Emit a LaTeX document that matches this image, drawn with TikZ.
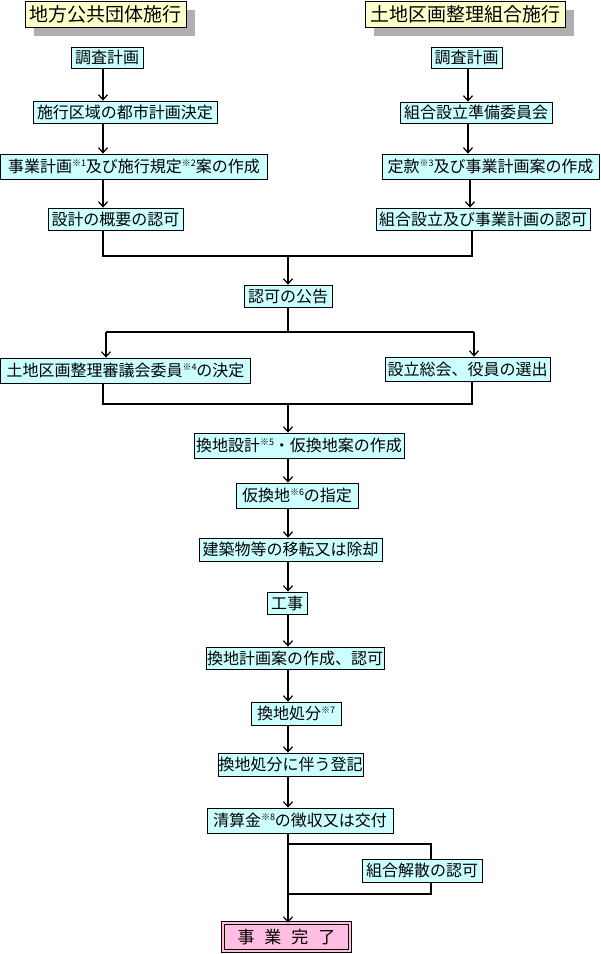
\documentclass[tikz,border=0pt]{standalone}
\usepackage{fontspec}
\setmainfont{Noto Sans CJK JP}
\usetikzlibrary{arrows.meta,shadows}
\definecolor{boxcyan}{RGB}{204,255,255}
\definecolor{hdryellow}{RGB}{255,255,204}
\definecolor{shadowgray}{RGB}{175,175,175}
\definecolor{epink}{RGB}{255,190,225}
\newcommand{\kome}[1]{\raisebox{6.5pt}{\fontsize{9}{9}\selectfont ※#1}}
\begin{document}
\begin{tikzpicture}[x=1pt,y=-1pt,
  box/.style={draw=black,line width=0.8pt,fill=boxcyan,inner sep=0pt,
    font=\fontsize{16}{16}\selectfont,anchor=center},
  sz/.style 2 args={minimum width=#1pt,minimum height=#2pt},
  hdr/.style={draw=black,line width=0.8pt,fill=hdryellow,inner sep=0pt,
    font=\fontsize{19}{19}\selectfont,
    drop shadow={shadow xshift=9pt,shadow yshift=-9pt,fill=shadowgray,opacity=1}},
  endbox/.style={draw=black,line width=0.7pt,double=epink,double distance=2.6pt,
    fill=epink,inner sep=0pt,font=\fontsize{17}{17}\selectfont},
  ln/.style={line width=1.6pt},
  arr/.style={line width=1.6pt,-{Straight Barb[length=5pt,width=9pt,line width=1.2pt]}}
]
\useasboundingbox (0,0) rectangle (601,954);

% headers
\node[hdr,sz={161}{26}] (H1) at (105.5,14) {地方公共団体施行};
\node[hdr,sz={200}{26}] (H2) at (465,14) {土地区画整理組合施行};

% left column
\node[box,sz={72}{21}] (L1) at (107,57.5) {調査計画};
\node[box,sz={184}{22}] (L2) at (125,112) {施行区域の都市計画決定};
\node[box,sz={267}{25}] (L3) at (134,166.5) {事業計画\kome{1}及び施行規定\kome{2}案の作成};
\node[box,sz={135}{22}] (L4) at (115.5,219) {設計の概要の認可};

% right column
\node[box,sz={71}{21}] (R1) at (466.5,57.5) {調査計画};
\node[box,sz={152}{21}] (R2) at (476,112.5) {組合設立準備委員会};
\node[box,sz={217}{25}] (R3) at (490.5,166.5) {定款\kome{3}及び事業計画案の作成};
\node[box,sz={214}{22}] (R4) at (483,219) {組合設立及び事業計画の認可};

% centre
\node[box,sz={88}{22}] (C1) at (288,296) {認可の公告};
\node[box,sz={250}{25}] (L5) at (125.5,370.5) {土地区画整理審議会委員\kome{4}の決定};
\node[box,sz={165}{24}] (R5) at (467.5,369) {設立総会、役員の選出};
\node[box,sz={210}{25}] (C2) at (299,445.5) {換地設計\kome{5}・仮換地案の作成};
\node[box,sz={122}{25}] (C3) at (297,495.5) {仮換地\kome{6}の指定};
\node[box,sz={183}{23}] (C4) at (290.5,549.5) {建築物等の移転又は除却};
\node[box,sz={40}{22}] (C5) at (287,603) {工事};
\node[box,sz={178}{22}] (C6) at (295,658) {換地計画案の作成、認可};
\node[box,sz={90}{23}] (C7) at (296,713.5) {換地処分\kome{7}};
\node[box,sz={145}{23}] (C8) at (290.5,764.5) {換地処分に伴う登記};
\node[box,sz={186}{25}] (C9) at (300,820.5) {清算金\kome{8}の徴収又は交付};
\node[box,sz={120}{23}] (K) at (422,870.5) {組合解散の認可};
\node[endbox,sz={127}{28}] (E) at (286.5,937) {事\hspace{10pt}業\hspace{10pt}完\hspace{10pt}了};

% coordinates
\coordinate (lx) at (103,0);
\coordinate (rxa) at (468,0);
\coordinate (rxb) at (470,0);
\coordinate (rx) at (472,0);
\coordinate (cx) at (288,0);
\coordinate (m1) at (288,256);
\coordinate (s1) at (288,332);
\coordinate (sL) at (106,332);
\coordinate (sR) at (474,332);
\coordinate (m2) at (288,404);
\coordinate (b1) at (288,844);
\coordinate (b2) at (431,844);
\coordinate (b3) at (431,894);
\coordinate (b4) at (288,894);

% left chain
\draw[arr] (L1.south -| lx) -- (L2.north -| lx);
\draw[arr] (L2.south -| lx) -- (L3.north -| lx);
\draw[arr] (L3.south -| lx) -- (L4.north -| lx);
% right chain
\draw[arr] (R1.south -| rxa) -- (R2.north -| rxa);
\draw[arr] (R2.south -| rxa) -- (R3.north -| rxa);
\draw[arr] (R3.south -| rxb) -- (R4.north -| rxb);
% merge 1
\draw[ln] (L4.south -| lx) -- (lx |- m1) -- (rx |- m1) -- (R4.south -| rx);
\draw[arr] (m1) -- (C1.north -| m1);
% split
\draw[ln] (C1.south -| s1) -- (s1);
\draw[ln] (sL) -- (sR);
\draw[arr] (sL) -- (L5.north -| sL);
\draw[arr] (sR) -- (R5.north -| sR);
% merge 2
\draw[ln] (L5.south -| lx) -- (lx |- m2) -- (rx |- m2) -- (R5.south -| rx);
\draw[arr] (m2) -- (C2.north -| m2);
% centre chain
\draw[arr] (C2.south -| cx) -- (C3.north -| cx);
\draw[arr] (C3.south -| cx) -- (C4.north -| cx);
\draw[arr] (C4.south -| cx) -- (C5.north -| cx);
\draw[arr] (C5.south -| cx) -- (C6.north -| cx);
\draw[arr] (C6.south -| cx) -- (C7.north -| cx);
\draw[arr] (C7.south -| cx) -- (C8.north -| cx);
\draw[arr] (C8.south -| cx) -- (C9.north -| cx);
\draw[arr] (C9.south -| cx) -- (E.north -| cx);
% bypass
\draw[ln] (b1) -- (b2) -- (K.north -| b2);
\draw[ln] (K.south -| b2) -- (b3) -- (b4);
\end{tikzpicture}
\end{document}
